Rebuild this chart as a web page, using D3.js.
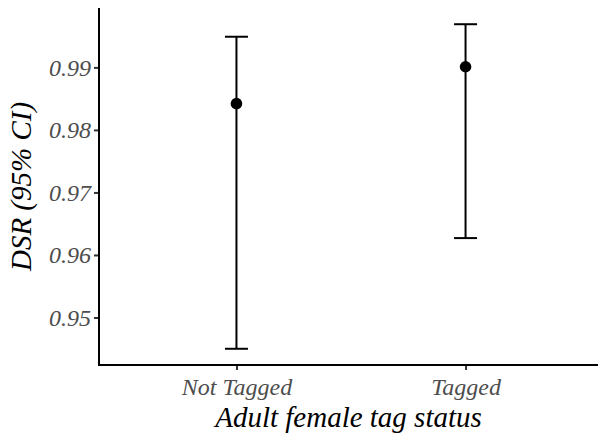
<!DOCTYPE html>
<html><head><meta charset="utf-8">
<script src="https://cdn.jsdelivr.net/npm/d3@7"></script>
<style>body{margin:0;background:#fff}svg{display:block}</style>
</head><body>
<script>
const categories = ["Not Tagged", "Tagged"];
const estimates = [0.9842, 0.9901];
const lower = [0.9450, 0.9627];
const upper = [0.9949, 0.9969];
const yTicks = [0.95, 0.96, 0.97, 0.98, 0.99];

const W = 598, H = 439;
const m = {left: 99, right: 0, top: 8, bottom: 74};
const svg = d3.select("body").append("svg").attr("width", W).attr("height", H);
const font = "'Liberation Serif', 'Times New Roman', serif";

const lo = d3.min(lower), hi = d3.max(upper), pad = (hi - lo) * 0.05;
const y = d3.scaleLinear().domain([lo - pad, hi + pad]).range([H - m.bottom, m.top]);
const x = d3.scalePoint().domain(categories).range([m.left, W + 5]).padding(0.6);

const data = categories.map((c, i) => ({c, est: estimates[i], lo: lower[i], hi: upper[i]}));
const g = svg.append("g");
const capW = 11.5;
g.selectAll(".v").data(data).enter().append("line")
  .attr("x1", d => x(d.c)).attr("x2", d => x(d.c))
  .attr("y1", d => y(d.lo)).attr("y2", d => y(d.hi))
  .attr("stroke", "#000").attr("stroke-width", 2);
g.selectAll(".ct").data(data).enter().append("line")
  .attr("x1", d => x(d.c) - capW).attr("x2", d => x(d.c) + capW)
  .attr("y1", d => y(d.hi)).attr("y2", d => y(d.hi))
  .attr("stroke", "#000").attr("stroke-width", 2);
g.selectAll(".cb").data(data).enter().append("line")
  .attr("x1", d => x(d.c) - capW).attr("x2", d => x(d.c) + capW)
  .attr("y1", d => y(d.lo)).attr("y2", d => y(d.lo))
  .attr("stroke", "#000").attr("stroke-width", 2);
g.selectAll("circle").data(data).enter().append("circle")
  .attr("cx", d => x(d.c)).attr("cy", d => y(d.est)).attr("r", 5.8).attr("fill", "#000");

// axes
const yAxis = svg.append("g").attr("transform", `translate(${m.left},0)`)
  .call(d3.axisLeft(y).tickValues(yTicks).tickFormat(d3.format(".2f")).tickSize(5).tickPadding(3));
const xAxis = svg.append("g").attr("transform", `translate(0,${H - m.bottom})`)
  .call(d3.axisBottom(x).tickSize(5).tickPadding(8));
[yAxis, xAxis].forEach(a => {
  a.select(".domain").remove();
  a.selectAll(".tick line").attr("stroke", "#333").attr("stroke-width", 2);
  a.selectAll(".tick text").attr("fill", "#4d4d4d").style("font-family", font)
    .style("font-style", "italic").style("font-size", "24px");
});
svg.append("line").attr("x1", m.left).attr("x2", m.left).attr("y1", m.top).attr("y2", H - m.bottom + 1)
  .attr("stroke", "#000").attr("stroke-width", 2);
svg.append("line").attr("x1", m.left - 1).attr("x2", W).attr("y1", H - m.bottom).attr("y2", H - m.bottom)
  .attr("stroke", "#000").attr("stroke-width", 2);

svg.append("text").attr("x", (m.left + W) / 2).attr("y", 427).attr("text-anchor", "middle")
  .style("font-family", font).style("font-style", "italic").style("font-size", "29px").attr("fill", "#000")
  .text("Adult female tag status");
svg.append("text").attr("transform", `translate(31,${(m.top + H - m.bottom) / 2}) rotate(-90)`)
  .attr("text-anchor", "middle")
  .style("font-family", font).style("font-style", "italic").style("font-size", "29px").attr("fill", "#000")
  .text("DSR (95% CI)");
</script>
</body></html>
